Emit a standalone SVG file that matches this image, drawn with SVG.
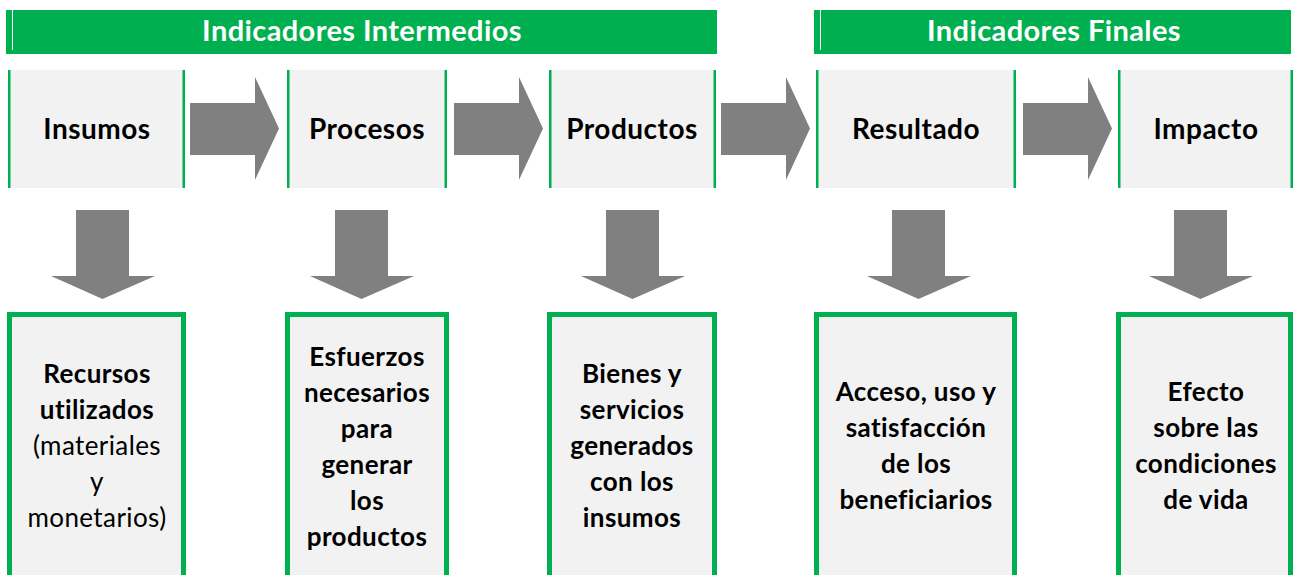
<svg xmlns="http://www.w3.org/2000/svg" width="1294" height="575" viewBox="0 0 1294 575">
<style>
.hdr{fill:#00b050}
.hdrt{font-family:Lato,"Liberation Sans",sans-serif;font-weight:bold;font-size:29px;letter-spacing:0.4px;fill:#ffffff;text-anchor:middle}
.top{fill:#f2f2f2}
.gl{fill:#00b050}
.topt{font-family:Lato,"Liberation Sans",sans-serif;font-weight:bold;font-size:28px;letter-spacing:0.5px;fill:#000;text-anchor:middle}
.box{fill:#f2f2f2;stroke:#00b050;stroke-width:5}
.bt{font-family:Lato,"Liberation Sans",sans-serif;font-size:26px;letter-spacing:0.4px;fill:#000;text-anchor:middle}
.b{font-weight:bold}
.arr{fill:#808080}
</style>
<rect width="1294" height="575" fill="#ffffff"/>
<g id="header-intermedios">
<rect class="hdr" x="6" y="10" width="711" height="44"/>
<rect x="12" y="10" width="1" height="40" fill="#ffffff"/>
<text class="hdrt" x="362" y="41">Indicadores Intermedios</text>
</g>
<g id="header-finales">
<rect class="hdr" x="814" y="10" width="477" height="44"/>
<rect x="820" y="10" width="1" height="40" fill="#ffffff"/>
<text class="hdrt" x="1054" y="41">Indicadores Finales</text>
</g>
<g id="insumos">
<rect class="top" x="8" y="70" width="177" height="118"/>
<rect class="gl" x="8" y="70" width="2.5" height="118"/><rect class="gl" x="182.5" y="70" width="2.5" height="118"/>
<text class="topt" x="97" y="139">Insumos</text>
</g>
<g id="procesos">
<rect class="top" x="287" y="70" width="160" height="118"/>
<rect class="gl" x="287" y="70" width="2.5" height="118"/><rect class="gl" x="444.5" y="70" width="2.5" height="118"/>
<text class="topt" x="367" y="139">Procesos</text>
</g>
<g id="productos">
<rect class="top" x="549" y="70" width="167" height="118"/>
<rect class="gl" x="549" y="70" width="2.5" height="118"/><rect class="gl" x="713.5" y="70" width="2.5" height="118"/>
<text class="topt" x="632" y="139">Productos</text>
</g>
<g id="resultado">
<rect class="top" x="816" y="70" width="200" height="118"/>
<rect class="gl" x="816" y="70" width="2.5" height="118"/><rect class="gl" x="1013.5" y="70" width="2.5" height="118"/>
<text class="topt" x="916" y="139">Resultado</text>
</g>
<g id="impacto">
<rect class="top" x="1118" y="70" width="175" height="118"/>
<rect class="gl" x="1118" y="70" width="2.5" height="118"/><rect class="gl" x="1290.5" y="70" width="2.5" height="118"/>
<text class="topt" x="1206" y="139">Impacto</text>
</g>
<g id="desc-insumos">
<rect class="box" x="9.5" y="314.5" width="174" height="270"/>
<text class="bt"><tspan class="b" x="97" y="383">Recursos</tspan><tspan class="b" x="97" y="419">utilizados</tspan><tspan x="97" y="455">(materiales</tspan><tspan x="97" y="491">y</tspan><tspan x="97" y="527">monetarios)</tspan></text>
</g>
<g id="desc-procesos">
<rect class="box" x="287.5" y="314.5" width="159" height="270"/>
<text class="bt b"><tspan x="367" y="366">Esfuerzos</tspan><tspan x="367" y="402">necesarios</tspan><tspan x="367" y="438">para</tspan><tspan x="367" y="474">generar</tspan><tspan x="367" y="510">los</tspan><tspan x="367" y="546">productos</tspan></text>
</g>
<g id="desc-productos">
<rect class="box" x="549.5" y="314.5" width="165" height="270"/>
<text class="bt b"><tspan x="632" y="383">Bienes y</tspan><tspan x="632" y="419">servicios</tspan><tspan x="632" y="455">generados</tspan><tspan x="632" y="491">con los</tspan><tspan x="632" y="527">insumos</tspan></text>
</g>
<g id="desc-resultado">
<rect class="box" x="816.5" y="314.5" width="198" height="270"/>
<text class="bt b"><tspan x="916" y="401">Acceso, uso y</tspan><tspan x="916" y="437">satisfacción</tspan><tspan x="916" y="473">de los</tspan><tspan x="916" y="509">beneficiarios</tspan></text>
</g>
<g id="desc-impacto">
<rect class="box" x="1118.5" y="314.5" width="172" height="270"/>
<text class="bt b"><tspan x="1206" y="401">Efecto</tspan><tspan x="1206" y="437">sobre las</tspan><tspan x="1206" y="473">condiciones</tspan><tspan x="1206" y="509">de vida</tspan></text>
</g>
<g id="connectors">
<polygon class="arr" points="190,103 255,103 255,77 279,128.5 255,180 255,155 190,155"/>
<polygon class="arr" points="454,103 519,103 519,77 543,128.5 519,180 519,155 454,155"/>
<polygon class="arr" points="721,103 786,103 786,77 810,128.5 786,180 786,155 721,155"/>
<polygon class="arr" points="1023,103 1088,103 1088,77 1112,128.5 1088,180 1088,155 1023,155"/>
<polygon class="arr" points="76,210 129,210 129,276 155,276 102.5,299 51,276 76,276"/>
<polygon class="arr" points="335,210 388,210 388,276 414,276 361.5,299 310,276 335,276"/>
<polygon class="arr" points="606,210 659,210 659,276 685,276 632.5,299 581,276 606,276"/>
<polygon class="arr" points="892,210 945,210 945,276 971,276 918.5,299 867,276 892,276"/>
<polygon class="arr" points="1174,210 1227,210 1227,276 1253,276 1200.5,299 1149,276 1174,276"/>
</g>
</svg>
